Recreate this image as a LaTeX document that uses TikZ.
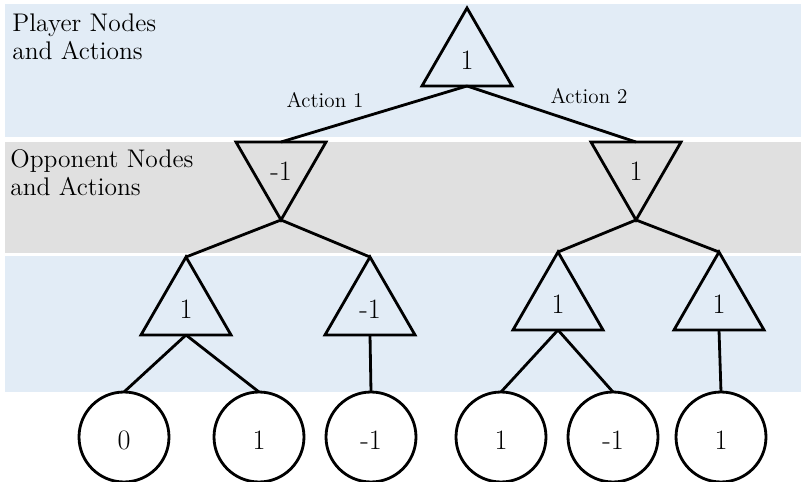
\documentclass[tikz,border=0pt]{standalone}
\usetikzlibrary{shapes.geometric}
\definecolor{bandblue}{HTML}{E2ECF6}
\definecolor{bandgray}{HTML}{E0E0E0}
\tikzset{
	maxnode/.style={regular polygon, regular polygon sides=3, draw, line width=1.6pt,
		minimum size=2.08cm, inner sep=0pt, outer sep=0pt, font=\fontsize{16}{16}\selectfont},
	minnode/.style={maxnode, shape border rotate=180, text height=14.5pt, text depth=0pt},
	leaf/.style={circle, draw, line width=1.6pt, minimum size=1.8cm, inner sep=0pt,
		outer sep=0pt, text height=14.5pt, text depth=0pt, font=\fontsize{16}{16}\selectfont},
	link/.style={line width=1.6pt},
	act/.style={inner sep=0pt, anchor=base, font=\fontsize{12}{12}\selectfont},
	rowlabel/.style={inner sep=0pt, anchor=north west, align=left, font=\fontsize{14.5}{16}\selectfont}
}

\begin{document}
\begin{tikzpicture}[x=0.02cm, y=-0.02cm]
	\useasboundingbox (0, 0) rectangle (801, 482);
	
	%%%%% BANDS %%%%%
	\fill[bandblue] (5, 4) rectangle (801, 137);
	\fill[bandgray] (5, 142) rectangle (801, 253);
	\fill[bandblue] (5, 256) rectangle (801, 392);
	
	\node[rowlabel] (playertxt) at (12, 13) {Player Nodes\\and Actions};
	\node[rowlabel] (opptxt) at (10, 149) {Opponent Nodes\\and Actions};
	
	%%%%% TREE %%%%%
	\node[maxnode] (root) at (467, 60) {1};
	
	\node[minnode] (oppL) at (281, 168) {-1};
	\node[minnode] (oppR) at (636, 168) {1};
	
	\node[maxnode] (aL) at (186, 309) {1};
	\node[maxnode] (bL) at (370, 309) {-1};
	\node[maxnode] (aR) at (558, 304) {1};
	\node[maxnode] (bR) at (719, 304) {1};
	
	\node[leaf] (l1) at (124, 437) {0};
	\node[leaf] (l2) at (259, 437) {1};
	\node[leaf] (l3) at (371, 437) {-1};
	\node[leaf] (l4) at (501, 437) {1};
	\node[leaf] (l5) at (613, 437) {-1};
	\node[leaf] (l6) at (721, 437) {1};
	
	\draw[link] (root.side 2) -- (oppL.side 2);
	\draw[link] (root.side 2) -- (oppR.side 2);
	\node[act] (act1) at (325, 108) {Action 1};
	\node[act] (act2) at (589, 104) {Action 2};
	
	\draw[link] (oppL.corner 1) -- (aL.corner 1);
	\draw[link] (oppL.corner 1) -- (bL.corner 1);
	\draw[link] (oppR.corner 1) -- (aR.corner 1);
	\draw[link] (oppR.corner 1) -- (bR.corner 1);
	
	\draw[link] (aL.side 2) -- (l1.north);
	\draw[link] (aL.side 2) -- (l2.north);
	\draw[link] (bL.side 2) -- (l3.north);
	\draw[link] (aR.side 2) -- (l4.north);
	\draw[link] (aR.side 2) -- (l5.north);
	\draw[link] (bR.side 2) -- (l6.north);
	
\end{tikzpicture}
\end{document}
